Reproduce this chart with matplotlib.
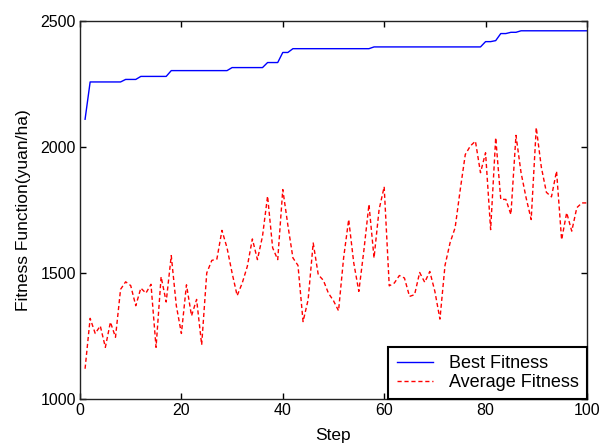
import numpy as np
import matplotlib
matplotlib.use("Agg")
import matplotlib.pyplot as plt

plt.rcParams["font.family"] = ["Liberation Sans", "DejaVu Sans"]

# Generation index
STEPS = np.arange(1, 101)

# Best fitness per step (step-like)
BEST = ([2110] + [2258] * 7 + [2268] * 3 + [2280] * 6 + [2303] * 12 + [2315] * 7
        + [2335] * 3 + [2375] * 2 + [2390] * 16 + [2397] * 22 + [2418] * 2 + [2422]
        + [2450] * 2 + [2455] * 2 + [2461] * 14)

# Average fitness per step
AVERAGE = [
    1120, 1320, 1260, 1290, 1205, 1305, 1245, 1435, 1465, 1450,
    1370, 1440, 1420, 1455, 1205, 1485, 1385, 1569, 1370, 1260,
    1453, 1330, 1395, 1215, 1500, 1550, 1555, 1669, 1600, 1500,
    1410, 1460, 1526, 1635, 1553, 1646, 1805, 1600, 1553, 1831,
    1690, 1560, 1530, 1307, 1394, 1619, 1493, 1471, 1420, 1390,
    1350, 1560, 1712, 1540, 1427, 1590, 1772, 1560, 1752, 1842,
    1449, 1460, 1490, 1480, 1407, 1414, 1502, 1463, 1506, 1427,
    1317, 1530, 1620, 1680, 1830, 1970, 2004, 2023, 1898, 1977,
    1672, 2037, 1792, 1792, 1732, 2046, 1898, 1798, 1712, 2077,
    1920, 1820, 1802, 1904, 1632, 1739, 1666, 1759, 1778, 1778,
]

X_TICKS = [0, 20, 40, 60, 80, 100]
Y_TICKS = [1000, 1500, 2000, 2500]

fig = plt.figure(figsize=(6.02, 4.46), dpi=100)
ax = fig.add_axes([0.1329, 0.1054, 0.8421, 0.8476])

ax.plot(STEPS, BEST, color="#0000ff", linewidth=1.0, label="Best Fitness")
ax.plot(STEPS, AVERAGE, color="#ff0000", linewidth=1.0, linestyle=(0, (3, 2)),
        label="Average Fitness")

ax.set_xlim(0, 100)
ax.set_ylim(1000, 2500)
ax.set_xticks(X_TICKS)
ax.set_yticks(Y_TICKS)
ax.tick_params(direction="in", length=4, width=1, top=True, right=True,
               labelsize=11.5, colors="black", pad=3)
for sp in ax.spines.values():
    sp.set_linewidth(1.0)
    sp.set_color("#222222")

ax.set_xlabel("Step", fontsize=12.5, labelpad=7)
ax.set_ylabel("Fitness Function(yuan/ha)", fontsize=12.5, labelpad=7)

leg = ax.legend(loc="lower right", fontsize=13, frameon=True, fancybox=False,
                borderaxespad=0, handlelength=2.0, handletextpad=0.9,
                borderpad=0.45, labelspacing=0.1)
leg.get_frame().set_edgecolor("black")
leg.get_frame().set_linewidth(1.5)
leg.get_frame().set_alpha(1)

fig.savefig("out.png", dpi=100)
